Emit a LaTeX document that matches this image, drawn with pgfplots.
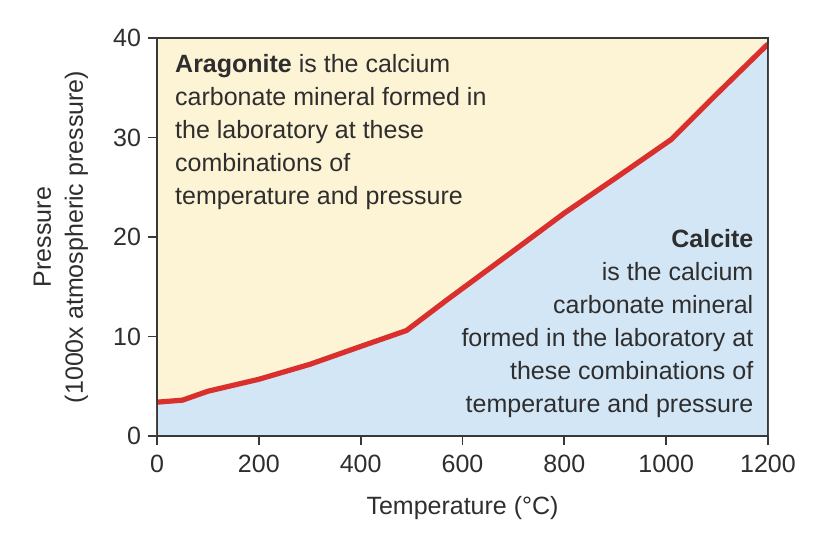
\documentclass[border=0pt]{standalone}
\usepackage{fontspec}
\setmainfont{Liberation Sans}
\usepackage{pgfplots}
\pgfplotsset{compat=1.18}
\definecolor{cArag}{HTML}{FDF3D5}
\definecolor{cCalc}{HTML}{D3E6F6}
\definecolor{cLine}{HTML}{D9302D}
\definecolor{cFrame}{HTML}{383838}
\definecolor{cText}{HTML}{2E2E2E}

\begin{document}
\begin{tikzpicture}
\begin{axis}[
    scale only axis,
    width=305.5pt, height=199pt,
    xmin=0, xmax=1200, ymin=0, ymax=40,
    xtick={0,200,...,1200}, ytick={0,10,...,40},
    xtick pos=bottom, ytick pos=left,
    tick align=outside,
    major tick length=4.5pt,
    axis line style={cFrame, line width=1pt},
    every tick/.style={cFrame, line width=0.9pt},
    axis background/.style={fill=cArag},
    font=\fontsize{12.5}{16}\selectfont,
    tick label style={text=cText, font=\fontsize{12.5}{16}\selectfont},
    /pgf/number format/assume math mode=true,
    /pgf/number format/1000 sep={},
    xticklabel style={yshift=-1.5pt},
    xlabel={Temperature (°C)},
    xlabel style={at={(axis description cs:0.5,0)}, anchor=north, inner sep=0pt, yshift=-30pt, text=cText},
    ylabel={Pressure\\(1000x atmospheric pressure)},
    ylabel style={at={(axis description cs:-0.112,0.5)}, anchor=south, align=center, inner sep=0pt, text=cText},
  ]
  % calcite field below the boundary
  \addplot[draw=none, fill=cCalc] coordinates {
    (0,3.4) (50,3.6) (100,4.5) (200,5.7) (300,7.2) (400,9.0) (490,10.6)
    (570,13.7) (700,18.6) (800,22.4) (900,25.9) (1010,29.8) (1100,34.4) (1200,39.4)
  } \closedcycle;
  % phase boundary
  \addplot[cLine, line width=2.6pt, line join=round] coordinates {
    (0,3.4) (50,3.6) (100,4.5) (200,5.7) (300,7.2) (400,9.0) (490,10.6)
    (570,13.7) (700,18.6) (800,22.4) (900,25.9) (1010,29.8) (1100,34.4) (1200,39.4)
  };
  \node[anchor=north west, inner sep=0pt, align=left, text=cText,
        font=\fontsize{12.5}{16.5}\selectfont] at (axis cs:35,38.4)
    {\textbf{Aragonite} is the calcium\\carbonate mineral formed in\\the laboratory at these\\combinations of\\temperature and pressure};
  \node[anchor=north east, inner sep=0pt, align=right, text=cText,
        font=\fontsize{12.5}{16.5}\selectfont] at (axis cs:1172,20.8)
    {\textbf{Calcite}\\is the calcium\\carbonate mineral\\formed in the laboratory at\\these combinations of\\temperature and pressure};
  \draw[cFrame, line width=1pt] (rel axis cs:0,0) rectangle (rel axis cs:1,1);
\end{axis}
\pgfresetboundingbox
\path[use as bounding box] (-78.5pt,-52pt) rectangle (328pt,218pt);
\end{tikzpicture}
\end{document}
